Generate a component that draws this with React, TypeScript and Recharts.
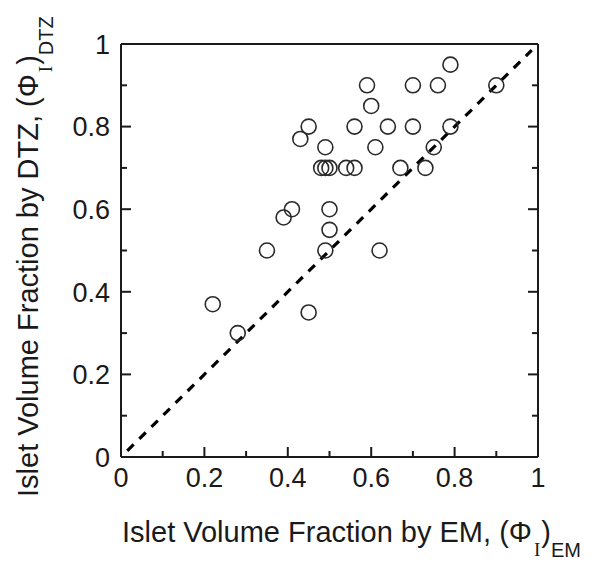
import { ScatterChart, Scatter, XAxis, YAxis, ReferenceLine } from 'recharts';

// Islet volume fraction measured by EM (x) versus DTZ (y)
const emFraction = [
  0.22, 0.28, 0.35, 0.39, 0.41, 0.43, 0.45, 0.45, 0.49, 0.48, 0.49,
  0.5, 0.5, 0.5, 0.49, 0.54, 0.56, 0.56, 0.59, 0.6, 0.61, 0.62,
  0.64, 0.67, 0.7, 0.7, 0.73, 0.75, 0.76, 0.79, 0.79, 0.9,
];
const dtzFraction = [
  0.37, 0.3, 0.5, 0.58, 0.6, 0.77, 0.8, 0.35, 0.75, 0.7, 0.7,
  0.7, 0.6, 0.55, 0.5, 0.7, 0.7, 0.8, 0.9, 0.85, 0.75, 0.5,
  0.8, 0.7, 0.9, 0.8, 0.7, 0.75, 0.9, 0.95, 0.8, 0.9,
];
const axisTicks = [0, 0.1, 0.2, 0.3, 0.4, 0.5, 0.6, 0.7, 0.8, 0.9, 1];
const identityLine = [0.015, 0.985];

const points = emFraction.map((x, i) => ({ x, y: dtzFraction[i] }));

const FONT = '"Liberation Sans", Arial, Helvetica, sans-serif';
const SERIF = '"Liberation Serif", "Times New Roman", serif';
const INK = '#1a1a1a';
const TICK_FONT = 27;
const TITLE_FONT = 29;

const isMajor = (v: number) => Math.round(v * 10) % 2 === 0;
const fmt = (v: number) => (v === 0 ? '0' : v === 1 ? '1' : v.toFixed(1));

function BottomTick({ x, y, payload }: any) {
  const len = isMajor(payload.value) ? 10 : 6;
  return (
    <g>
      <line x1={x} y1={y} x2={x} y2={y - len} stroke={INK} strokeWidth={2} />
      {isMajor(payload.value) && (
        <text x={x} y={y + 30} textAnchor="middle" fontFamily={FONT} fontSize={TICK_FONT} fill={INK}>
          {fmt(payload.value)}
        </text>
      )}
    </g>
  );
}

function TopTick({ x, y, payload }: any) {
  const len = isMajor(payload.value) ? 10 : 6;
  return <line x1={x} y1={y} x2={x} y2={y + len} stroke={INK} strokeWidth={2} />;
}

function LeftTick({ x, y, payload }: any) {
  const len = isMajor(payload.value) ? 10 : 6;
  return (
    <g>
      <line x1={x} y1={y} x2={x + len} y2={y} stroke={INK} strokeWidth={2} />
      {isMajor(payload.value) && (
        <text x={x - 11} y={y} dy="0.36em" textAnchor="end" fontFamily={FONT} fontSize={TICK_FONT} fill={INK}>
          {fmt(payload.value)}
        </text>
      )}
    </g>
  );
}

function RightTick({ x, y, payload }: any) {
  const len = isMajor(payload.value) ? 10 : 6;
  return <line x1={x} y1={y} x2={x - len} y2={y} stroke={INK} strokeWidth={2} />;
}

function XTitle() {
  return (
    <text x={122} y={542} fontFamily={FONT} fontSize={TITLE_FONT} fill={INK}>
      Islet Volume Fraction by EM, (Φ
      <tspan fontFamily={SERIF} fontSize={19} dx={2} dy={14}>I</tspan>
      <tspan dx={1} dy={-14}>)</tspan>
      <tspan fontSize={20} dy={15}>EM</tspan>
    </text>
  );
}

function YTitle() {
  return (
    <text transform="rotate(-90 38 497)" x={38} y={497} fontFamily={FONT} fontSize={TITLE_FONT} fill={INK}>
      Islet Volume Fraction by DTZ, (Φ
      <tspan fontFamily={SERIF} fontSize={19} dx={2} dy={14}>I</tspan>
      <tspan dx={1} dy={-14}>)</tspan>
      <tspan fontSize={20} dy={15}>DTZ</tspan>
    </text>
  );
}

function RingDot({ cx, cy }: any) {
  return <circle cx={cx} cy={cy} r={7.5} fill="none" stroke="#2a2a2a" strokeWidth={1.6} />;
}

export default function App() {
  return (
    <div>
      <style>{`body { margin: 0; background: #fff; }`}</style>
      <ScatterChart width={600} height={579} margin={{ top: 43, right: 61, bottom: 121, left: 120 }}>
        <XAxis
          dataKey="x"
          type="number"
          domain={[0, 1]}
          ticks={axisTicks}
          allowDataOverflow
          height={1}
          tickSize={0}
          tickMargin={0}
          tick={<BottomTick />}
          axisLine={{ stroke: INK, strokeWidth: 2 }}
          label={<XTitle />}
        />
        <XAxis
          xAxisId="top"
          orientation="top"
          type="number"
          domain={[0, 1]}
          ticks={axisTicks}
          allowDataOverflow
          height={1}
          tickSize={0}
          tickMargin={0}
          tick={<TopTick />}
          axisLine={{ stroke: INK, strokeWidth: 2 }}
        />
        <YAxis
          dataKey="y"
          type="number"
          domain={[0, 1]}
          ticks={axisTicks}
          allowDataOverflow
          width={1}
          tickSize={0}
          tickMargin={0}
          tick={<LeftTick />}
          axisLine={{ stroke: INK, strokeWidth: 2 }}
          label={<YTitle />}
        />
        <YAxis
          yAxisId="right"
          orientation="right"
          type="number"
          domain={[0, 1]}
          ticks={axisTicks}
          allowDataOverflow
          width={1}
          tickSize={0}
          tickMargin={0}
          tick={<RightTick />}
          axisLine={{ stroke: INK, strokeWidth: 2 }}
        />
        <ReferenceLine
          segment={[
            { x: identityLine[0], y: identityLine[0] },
            { x: identityLine[1], y: identityLine[1] },
          ]}
          stroke="#000"
          strokeWidth={3.2}
          strokeDasharray="9 8"
        />
        <Scatter data={points} shape={<RingDot />} isAnimationActive={false} />
      </ScatterChart>
    </div>
  );
}
